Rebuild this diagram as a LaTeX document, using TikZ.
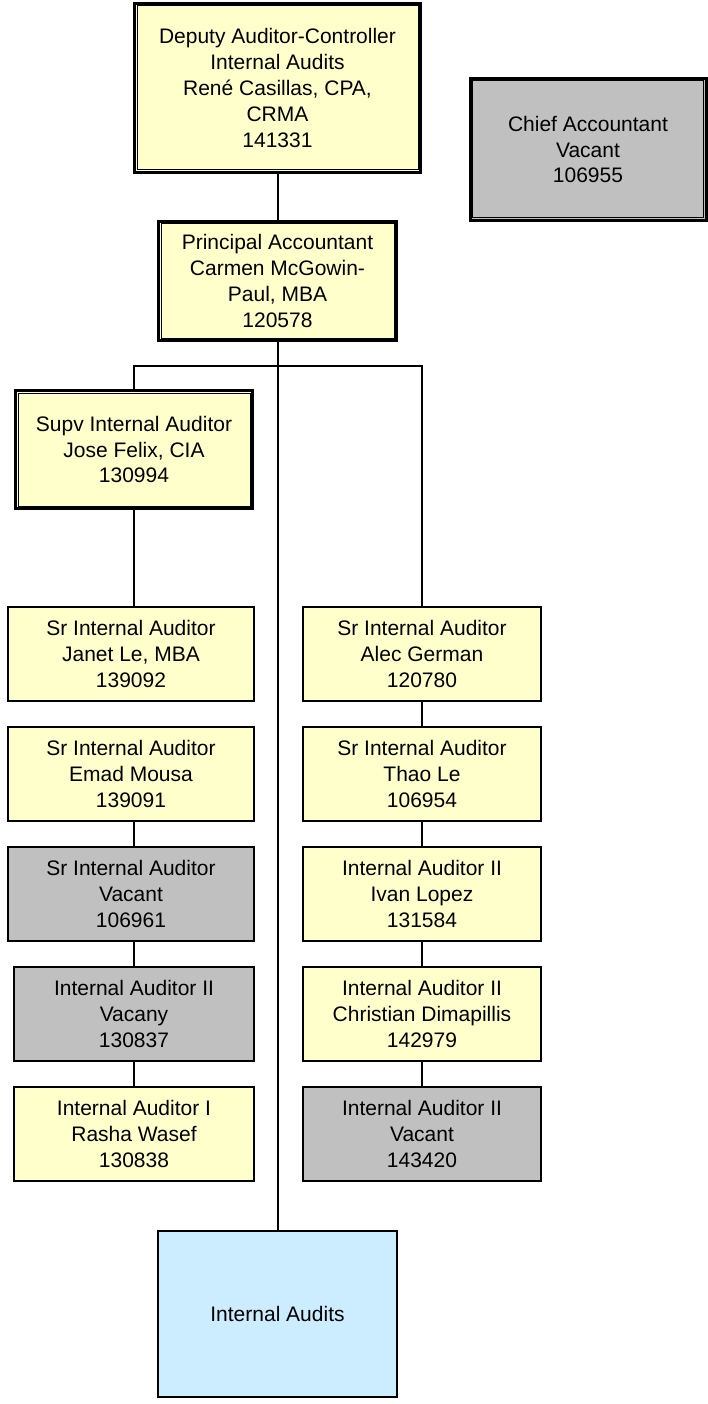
\documentclass[tikz,border=0pt]{standalone}
\usepackage{fontspec}
\setmainfont{Liberation Sans}
\usetikzlibrary{positioning}

\definecolor{postyellow}{HTML}{FFFFCC}
\definecolor{vacgrey}{HTML}{C0C0C0}
\definecolor{unitblue}{HTML}{CCECFF}

\tikzset{
	post/.style={draw=black, line width=2pt, fill=postyellow, align=center, inner sep=0pt,
		font=\fontsize{21}{25.8}\selectfont, minimum width=238pt, minimum height=94pt},
	vacpost/.style={post, fill=vacgrey},
	headpost/.style={post, line width=3pt},
	innerline/.style={line width=1pt},
	link/.style={line width=2pt},
}

\begin{document}
\begin{tikzpicture}[x=1pt, y=-1pt]
			%%%%% START %%%%%
			\useasboundingbox (0, 0) rectangle (708, 1404);
			
			\node[headpost, minimum width=286pt, minimum height=169pt] (deputy) at (277.5, 88)
				{Deputy Auditor-Controller\\Internal Audits\\René Casillas, CPA,\\CRMA\\141331};
			\node[headpost, fill=vacgrey, minimum width=236pt, minimum height=142pt] (chief) at (588, 149.5)
				{Chief Accountant\\Vacant\\106955};
			\node[headpost, minimum height=119pt] (principal) at (277.5, 281)
				{Principal Accountant\\Carmen McGowin-\\Paul, MBA\\120578};
			\node[headpost, minimum width=237pt, minimum height=118pt] (supv) at (134, 449.5)
				{Supv Internal Auditor\\Jose Felix, CIA\\130994};
			
			% double frame
			\foreach \n in {deputy, chief, principal, supv}
				\draw[innerline] ([shift={(4, 4)}]\n.north west) rectangle ([shift={(-4, -4)}]\n.south east);
			
			% left column
			\node[post, minimum width=246pt] (janet) at (131, 654) {Sr Internal Auditor\\Janet Le, MBA\\139092};
			\node[post, minimum width=246pt] (emad) at (131, 774) {Sr Internal Auditor\\Emad Mousa\\139091};
			\node[vacpost, minimum width=246pt] (vacsr) at (131, 894) {Sr Internal Auditor\\Vacant\\106961};
			\node[vacpost, minimum width=240pt] (vacany) at (134, 1014) {Internal Auditor II\\Vacany\\130837};
			\node[post, minimum width=240pt] (rasha) at (134, 1134) {Internal Auditor I\\Rasha Wasef\\130838};
			
			% right column
			\node[post] (alec) at (422, 654) {Sr Internal Auditor\\Alec German\\120780};
			\node[post] (thao) at (422, 774) {Sr Internal Auditor\\Thao Le\\106954};
			\node[post] (ivan) at (422, 894) {Internal Auditor II\\Ivan Lopez\\131584};
			\node[post] (christian) at (422, 1014) {Internal Auditor II\\Christian Dimapillis\\142979};
			\node[vacpost] (vacia) at (422, 1134) {Internal Auditor II\\Vacant\\143420};
			
			\node[post, fill=unitblue, minimum width=239pt, minimum height=166pt] (unit) at (277.5, 1314) {Internal Audits};
			
			% lines
			\coordinate (bus) at (277.5, 366);
			\draw[link] (deputy) -- (principal);
			\draw[link] (principal) -- (unit);
			\draw[link] (supv.north) |- (bus) -| (alec.north);
			\draw[link] (supv.south) -- (supv.south |- janet.north);
			\draw[link] (emad.south -| vacany.north) -- (vacsr.north -| vacany.north);
			\draw[link] (vacsr.south -| vacany.north) -- (vacany.north);
			\draw[link] (vacany) -- (rasha);
			\draw[link] (alec) -- (thao);
			\draw[link] (thao) -- (ivan);
			\draw[link] (ivan) -- (christian);
			\draw[link] (christian) -- (vacia);
			
			%%%%% END %%%%%
\end{tikzpicture}
\end{document}
